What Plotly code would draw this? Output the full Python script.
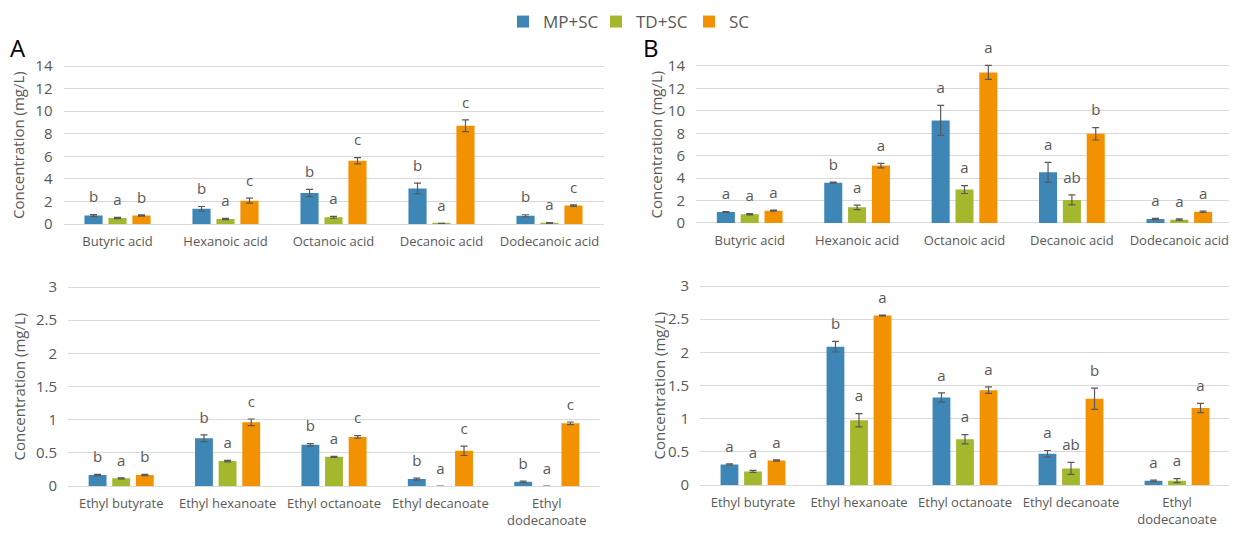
import plotly.graph_objects as go

# ---------------- data ----------------
series_names = ["MP+SC", "TD+SC", "SC"]
series_colors = ["#3D86B5", "#A3B82C", "#F39200"]

acid_categories = ["Butyric acid", "Hexanoic acid", "Octanoic acid", "Decanoic acid", "Dodecanoic acid"]
ester_categories = ["Ethyl butyrate", "Ethyl hexanoate", "Ethyl octanoate", "Ethyl decanoate", "Ethyl<br>dodecanoate"]

# Panel A - acids
a_acid_mp = [0.75, 1.35, 2.75, 3.15, 0.72]
a_acid_mp_err = [0.08, 0.20, 0.32, 0.47, 0.10]
a_acid_td = [0.53, 0.44, 0.59, 0.03, 0.09]
a_acid_td_err = [0.05, 0.06, 0.08, 0.02, 0.03]
a_acid_sc = [0.75, 2.07, 5.60, 8.70, 1.63]
a_acid_sc_err = [0.05, 0.22, 0.28, 0.52, 0.06]
a_acid_mp_lbl = ["b", "b", "b", "b", "b"]
a_acid_td_lbl = ["a", "a", "a", "a", "a"]
a_acid_sc_lbl = ["b", "c", "c", "c", "c"]

# Panel B - acids
b_acid_mp = [0.98, 3.60, 9.15, 4.53, 0.36]
b_acid_mp_err = [0.04, 0.05, 1.34, 0.88, 0.05]
b_acid_td = [0.78, 1.40, 2.98, 2.06, 0.30]
b_acid_td_err = [0.06, 0.20, 0.35, 0.45, 0.06]
b_acid_sc = [1.10, 5.12, 13.43, 7.95, 1.01]
b_acid_sc_err = [0.05, 0.20, 0.63, 0.55, 0.06]
b_acid_mp_lbl = ["a", "b", "a", "a", "a"]
b_acid_td_lbl = ["a", "a", "a", "ab", "a"]
b_acid_sc_lbl = ["a", "a", "a", "b", "a"]

# Panel A - esters
a_est_mp = [0.165, 0.72, 0.62, 0.105, 0.065]
a_est_mp_err = [0.01, 0.05, 0.02, 0.015, 0.01]
a_est_td = [0.115, 0.375, 0.44, 0.0, 0.0]
a_est_td_err = [0.008, 0.01, 0.008, 0.0, 0.0]
a_est_sc = [0.165, 0.96, 0.74, 0.53, 0.945]
a_est_sc_err = [0.01, 0.05, 0.02, 0.07, 0.02]
a_est_mp_lbl = ["b", "b", "b", "b", "b"]
a_est_td_lbl = ["a", "a", "a", "a", "a"]
a_est_sc_lbl = ["b", "c", "c", "c", "c"]

# Panel B - esters
b_est_mp = [0.31, 2.085, 1.32, 0.47, 0.065]
b_est_mp_err = [0.01, 0.08, 0.07, 0.05, 0.01]
b_est_td = [0.205, 0.975, 0.69, 0.25, 0.065]
b_est_td_err = [0.015, 0.10, 0.07, 0.09, 0.03]
b_est_sc = [0.37, 2.555, 1.43, 1.30, 1.16]
b_est_sc_err = [0.01, 0.005, 0.05, 0.16, 0.07]
b_est_mp_lbl = ["a", "b", "a", "a", "a"]
b_est_td_lbl = ["a", "a", "a", "ab", "a"]
b_est_sc_lbl = ["a", "a", "a", "b", "a"]

# ---------------- layout helpers ----------------
# the page body has an 8px margin, so the figure is made 8px smaller and
# all target page positions are shifted by that offset
OFF = 8
W, H = 1237 - OFF, 533 - OFF
FONT = "Open Sans"
GRAY = "#595959"
GRID = "#D9D9D9"

BAR_W = 0.168
PITCH = 0.222


def px_x(p):
    return (p - OFF) / W


def px_y(p):
    return 1 - (p - OFF) / H


panels = [
    # suffix, categories, series, x px (left,right), y px (zero, top gridline),
    # top value, extended top, dtick, y-title x px
    ("", acid_categories,
     [(a_acid_mp, a_acid_mp_err, a_acid_mp_lbl), (a_acid_td, a_acid_td_err, a_acid_td_lbl), (a_acid_sc, a_acid_sc_err, a_acid_sc_lbl)],
     (63.5, 603.5), (224, 66), 14, 15, 2, 18),
    ("2", acid_categories,
     [(b_acid_mp, b_acid_mp_err, b_acid_mp_lbl), (b_acid_td, b_acid_td_err, b_acid_td_lbl), (b_acid_sc, b_acid_sc_err, b_acid_sc_lbl)],
     (696, 1233), (223, 66), 14, 15, 2, 655),
    ("3", ester_categories,
     [(a_est_mp, a_est_mp_err, a_est_mp_lbl), (a_est_td, a_est_td_err, a_est_td_lbl), (a_est_sc, a_est_sc_err, a_est_sc_lbl)],
     (68, 600), (486, 287), 3, 3.2, 0.5, 18),
    ("4", ester_categories,
     [(b_est_mp, b_est_mp_err, b_est_mp_lbl), (b_est_td, b_est_td_err, b_est_td_lbl), (b_est_sc, b_est_sc_err, b_est_sc_lbl)],
     (700, 1230), (485, 286), 3, 3.2, 0.5, 658),
]

fig = go.Figure()
annotations = []
layout = {}

for pi, (suf, cats, series, xpx, ypx, ytop, yext, dt, title_x) in enumerate(panels):
    xa = "x" + suf
    ya = "y" + suf
    cat_idx = list(range(len(cats)))
    for si, (vals, errs, lbls) in enumerate(series):
        xs = [i + (si - 1) * PITCH for i in cat_idx]
        fig.add_trace(go.Bar(
            x=xs, y=vals, width=BAR_W,
            name=series_names[si],
            marker=dict(color=series_colors[si], line=dict(width=0)),
            error_y=dict(type="data", array=errs, visible=True,
                         color=GRAY, thickness=1.2, width=3.5),
            xaxis=xa, yaxis=ya,
            showlegend=(pi == 0),
            legendgroup=series_names[si],
        ))
        # significance letters above the error bars
        fig.add_trace(go.Scatter(
            x=xs, y=[v + e for v, e in zip(vals, errs)],
            mode="markers+text", text=lbls, textposition="top center",
            marker=dict(size=12, color="rgba(0,0,0,0)"),
            textfont=dict(family=FONT, size=15, color=GRAY),
            cliponaxis=False, showlegend=False, hoverinfo="skip",
            xaxis=xa, yaxis=ya,
        ))
    # extend the value range a little above the top gridline (room for letters)
    zero_px, top_px = ypx
    ext_top_px = zero_px - (zero_px - top_px) * yext / ytop
    layout["xaxis" + suf] = dict(
        domain=[px_x(xpx[0]), px_x(xpx[1])],
        range=[-0.5, len(cats) - 0.5],
        tickmode="array", tickvals=cat_idx, ticktext=cats,
        showgrid=False, zeroline=False, showline=False, ticks="",
        ticklabelstandoff=8,
        tickfont=dict(family=FONT, size=13, color=GRAY),
        anchor=ya, fixedrange=True, automargin=False,
    )
    layout["yaxis" + suf] = dict(
        domain=[px_y(zero_px), px_y(ext_top_px)],
        range=[0, yext], dtick=dt, tick0=0,
        showgrid=True, gridcolor=GRID, gridwidth=1,
        zeroline=True, zerolinecolor=GRID, zerolinewidth=1,
        showline=False, ticks="",
        ticklabelstandoff=10,
        tickfont=dict(family=FONT, size=15, color=GRAY),
        anchor=xa, fixedrange=True, automargin=False,
    )
    # axis title centred on the visible 0..top span
    annotations.append(dict(
        x=px_x(title_x), y=px_y((zero_px + top_px) / 2),
        xref="paper", yref="paper", text="Concentration (mg/L)",
        showarrow=False, textangle=-90, xanchor="center", yanchor="middle",
        font=dict(family=FONT, size=15, color=GRAY),
    ))

annotations.append(dict(x=px_x(18), y=px_y(47), xref="paper", yref="paper", text="A",
                        showarrow=False, xanchor="center", yanchor="middle",
                        font=dict(family=FONT, size=24, color="#000000")))
annotations.append(dict(x=px_x(651), y=px_y(47), xref="paper", yref="paper", text="B",
                        showarrow=False, xanchor="center", yanchor="middle",
                        font=dict(family=FONT, size=24, color="#000000")))

fig.update_layout(
    template="none",
    width=W, height=H,
    margin=dict(l=0, r=0, t=0, b=0, autoexpand=False),
    paper_bgcolor="white", plot_bgcolor="white",
    barmode="overlay",
    showlegend=True,
    legend=dict(orientation="h", x=px_x(503), xanchor="left", y=px_y(4), yanchor="top",
                font=dict(family=FONT, size=17, color=GRAY),
                itemwidth=30, tracegroupgap=0, entrywidth=48, entrywidthmode="pixels",
                bgcolor="rgba(0,0,0,0)"),
    annotations=annotations,
    **layout,
)

fig.write_html("out.html")
